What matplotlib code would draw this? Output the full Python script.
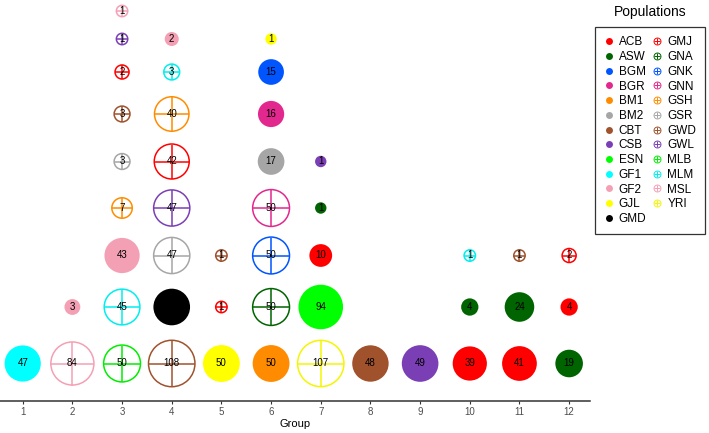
import matplotlib
matplotlib.use('Agg')
import matplotlib.pyplot as plt
from matplotlib.lines import Line2D
from matplotlib.legend_handler import HandlerTuple

plt.rcParams['font.family'] = ['Liberation Sans', 'DejaVu Sans']

# ---------------- data ----------------
solid_pops = ['ACB', 'ASW', 'BGM', 'BGR', 'BM1', 'BM2', 'CBT', 'CSB', 'ESN',
              'GF1', 'GF2', 'GJL', 'GMD']
hatched_pops = ['GMJ', 'GNA', 'GNK', 'GNN', 'GSH', 'GSR', 'GWD', 'GWL', 'MLB',
                'MLM', 'MSL', 'YRI']
pop_colors = {
    'ACB': '#FF0000', 'GMJ': '#FF0000',
    'ASW': '#006400', 'GNA': '#006400',
    'BGM': '#0055FF', 'GNK': '#0055FF',
    'BGR': '#E2288E', 'GNN': '#E2288E',
    'BM1': '#FF8C00', 'GSH': '#FF8C00',
    'BM2': '#A6A6A6', 'GSR': '#A6A6A6',
    'CBT': '#A0522D', 'GWD': '#A0522D',
    'CSB': '#7B3FB5', 'GWL': '#7B3FB5',
    'ESN': '#00FF00', 'MLB': '#00EE00',
    'GF1': '#00FFFF', 'MLM': '#00EEEE',
    'GF2': '#F4A0B4', 'MSL': '#F4A0B4',
    'GJL': '#FFFF00', 'YRI': '#F5F500',
    'GMD': '#000000',
}

group = [1,
         2, 2,
         3, 3, 3, 3, 3, 3, 3, 3, 3,
         4, 4, 4, 4, 4, 4, 4, 4,
         5, 5, 5,
         6, 6, 6, 6, 6, 6, 6, 6,
         7, 7, 7, 7, 7,
         8,
         9,
         10, 10, 10,
         11, 11, 11,
         12, 12, 12]
population = ['GF1',
              'MSL', 'GF2',
              'MLB', 'MLM', 'GF2', 'GSH', 'GSR', 'GWD', 'GMJ', 'GWL', 'MSL',
              'GWD', 'GMD', 'GSR', 'GWL', 'GMJ', 'GSH', 'MLM', 'GF2',
              'GJL', 'GMJ', 'GWD',
              'BM1', 'GNA', 'GNK', 'GNN', 'BM2', 'BGR', 'BGM', 'GJL',
              'YRI', 'ESN', 'ACB', 'ASW', 'CSB',
              'CBT',
              'CSB',
              'ACB', 'ASW', 'MLM',
              'ACB', 'ASW', 'GWD',
              'ASW', 'ACB', 'GMJ']
count = [47,
         84, 3,
         50, 45, 43, 7, 3, 3, 2, 1, 1,
         108, 49, 47, 47, 42, 40, 3, 2,
         50, 1, 1,
         50, 50, 50, 50, 17, 16, 15, 1,
         107, 94, 10, 1, 1,
         48,
         49,
         39, 4, 1,
         41, 24, 1,
         19, 4, 2]
group_ticks = list(range(1, 13))

# ---------------- layout ----------------
W, H, DPI = 709, 433, 100
row_y = [363.5, 307, 255.5, 208, 161.5, 114, 72, 39, 11]  # vertical slots (px from top)

fig = plt.figure(figsize=(W / DPI, H / DPI), dpi=DPI)
ax = fig.add_axes([0, 32 / H, 590 / W, 401 / H])
ax.set_xlim(0.543, 12.42)
ax.set_ylim(401, 0)


def msize(n):
    d_px = 2 * 5.7 * n ** 0.3
    d_pt = d_px * 72 / DPI
    return d_pt ** 2


rank_in_group = {}
for g, p, n in zip(group, population, count):
    r = rank_in_group.get(g, 0)
    rank_in_group[g] = r + 1
    y = row_y[r]
    c = pop_colors[p]
    s = msize(n)
    if p in hatched_pops:
        ax.scatter([g], [y], s=s, facecolors='none', edgecolors=c,
                   linewidths=1.1, zorder=2)
        ax.scatter([g], [y], s=s, marker='+', c=c, linewidths=1.1, zorder=2)
    else:
        ax.scatter([g], [y], s=s, c=c, edgecolors='none', zorder=2)
    ax.text(g, y, str(n), ha='center', va='center', fontsize=7,
            color='black', zorder=3)

for sp in ['left', 'top', 'right']:
    ax.spines[sp].set_visible(False)
ax.spines['bottom'].set_color('#333333')
ax.spines['bottom'].set_linewidth(1.1)
ax.set_yticks([])
ax.set_xticks(group_ticks)
ax.set_xticklabels([str(t) for t in group_ticks])
ax.tick_params(axis='x', length=2.5, width=0.8, color='#333333',
               labelsize=7, labelcolor='#4d4d4d', pad=2)
ax.set_xlabel('Group', fontsize=8, labelpad=1.5)
ax.patch.set_alpha(0)

# ---------------- legend ----------------
handles, labels = [], []
for p in solid_pops:
    handles.append(Line2D([], [], linestyle='none', marker='o', markersize=5,
                          markerfacecolor=pop_colors[p], markeredgecolor='none'))
    labels.append(p)
for p in hatched_pops:
    h1 = Line2D([], [], linestyle='none', marker='o', markersize=5,
                markerfacecolor='none', markeredgecolor=pop_colors[p],
                markeredgewidth=0.7)
    h2 = Line2D([], [], linestyle='none', marker='+', markersize=5,
                color=pop_colors[p], markeredgewidth=0.7)
    handles.append((h1, h2))
    labels.append(p)
handles.append(Line2D([], [], linestyle='none'))
labels.append('')

leg = fig.legend(handles, labels, ncol=2, loc='upper left',
                 bbox_to_anchor=(595 / W, 1 - 27.5 / H),
                 fontsize=8.5, frameon=True, fancybox=False,
                 edgecolor='black', borderpad=0.75, labelspacing=0.23,
                 handlelength=0.8, handletextpad=0.45, columnspacing=0.55,
                 borderaxespad=0,
                 handler_map={tuple: HandlerTuple(ndivide=1, pad=0)})
leg.get_frame().set_linewidth(0.9)
fig.text(650 / W, 1 - 12 / H, 'Populations', ha='center', va='center',
         fontsize=10)

fig.savefig('out.png', dpi=DPI)
